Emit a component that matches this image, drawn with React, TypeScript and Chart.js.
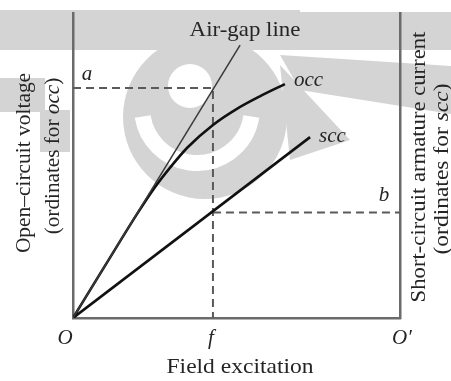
import React, { useEffect, useRef } from "react";
import { Chart, registerables } from "chart.js";

Chart.register(...registerables);

// Field excitation (x) in % of O..O', ordinates (y) in % of axis height
const airGapX = [0, 51.1];
const airGapY = [0, 89.5];
const occX = [0, 10, 20, 25, 30, 35, 42.8, 50, 57, 64.8];
const occY = [0, 17.5, 34.8, 42.8, 49.7, 55.9, 63.3, 68.5, 72.6, 76.7];
const sccX = [0, 72.5];
const sccY = [0, 59.3];
const fValue = 42.8;
const aValue = 75.4;
const bValue = 34.6;
const xTickValues = [0, fValue, 100];
const xTickLabels = ["O", "f", "O\u2032"];

const pts = (xs: number[], ys: number[]) => xs.map((x, i) => ({ x, y: ys[i] }));

const SERIF = '"Liberation Serif", "DejaVu Serif", serif';
const TEXT = "#252525";
const GRAY = "#d4d4d4";

type Part = { t: string; i?: boolean };

function drawParts(
  ctx: CanvasRenderingContext2D,
  parts: Part[],
  size: number,
  x: number,
  y: number,
  align: "left" | "center",
  rot = 0,
  stretch = 1
) {
  ctx.save();
  ctx.translate(x, y);
  if (rot) ctx.rotate(rot);
  ctx.scale(stretch, 1);
  ctx.fillStyle = TEXT;
  ctx.textBaseline = "middle";
  ctx.textAlign = "left";
  const font = (p: Part) => `${p.i ? "italic " : ""}${size}px ${SERIF}`;
  let total = 0;
  parts.forEach((p) => {
    ctx.font = font(p);
    total += ctx.measureText(p.t).width;
  });
  let cx = align === "center" ? -total / 2 : 0;
  parts.forEach((p) => {
    ctx.font = font(p);
    ctx.fillText(p.t, cx, 0);
    cx += ctx.measureText(p.t).width;
  });
  ctx.restore();
}

const watermark = {
  id: "watermark",
  beforeDraw(chart: any) {
    const ctx = chart.ctx as CanvasRenderingContext2D;
    ctx.save();
    ctx.fillStyle = "#ffffff";
    ctx.fillRect(0, 0, chart.width, chart.height);
    ctx.fillStyle = GRAY;
    // top band
    ctx.fillRect(0, 10, chart.width, 40);
    ctx.fillStyle = "#ffffff";
    ctx.fillRect(300, 0, 151, 12);
    ctx.fillRect(400, 50, 51, 16);
    ctx.fillStyle = GRAY;
    // left patches
    ctx.fillRect(0, 78, 45, 34);
    ctx.fillRect(40, 110, 30, 42);
    // big disc
    ctx.beginPath();
    ctx.arc(205, 117, 82, 0, Math.PI * 2);
    ctx.fill();
    // right wedge
    ctx.beginPath();
    ctx.moveTo(280, 55);
    ctx.lineTo(451, 66);
    ctx.lineTo(451, 114);
    ctx.lineTo(300, 90);
    ctx.closePath();
    ctx.fill();
    ctx.beginPath();
    ctx.moveTo(280, 65);
    ctx.lineTo(350, 140);
    ctx.lineTo(290, 160);
    ctx.closePath();
    ctx.fill();
    // white C ring inside disc
    ctx.strokeStyle = "#ffffff";
    ctx.lineWidth = 16;
    ctx.beginPath();
    ctx.arc(197, 108, 55, Math.PI * 0.05, Math.PI * 0.95);
    ctx.stroke();
    // white small circle
    ctx.fillStyle = "#ffffff";
    ctx.beginPath();
    ctx.arc(190, 86, 22, 0, Math.PI * 2);
    ctx.fill();
    ctx.restore();
  },
};

const labels = {
  id: "labels",
  afterDraw(chart: any) {
    const ctx = chart.ctx as CanvasRenderingContext2D;
    const sx = chart.scales.x;
    const sy = chart.scales.y;
    const S = 21;
    const up = -Math.PI / 2;
    // tick labels
    xTickValues.forEach((v, i) => {
      drawParts(ctx, [{ t: xTickLabels[i], i: true }], S, sx.getPixelForValue(v) + (i === 0 ? -8 : i === 2 ? 2 : -2), 338, "center");
    });
    drawParts(ctx, [{ t: "Field excitation" }], S, 240, 367, "center", 0, 1.12);
    drawParts(ctx, [{ t: "Air-gap line" }], S, 245, 30, "center", 0, 1.09);
    drawParts(ctx, [{ t: "occ", i: true }], S, sx.getPixelForValue(occX[occX.length - 1]) + 9, sy.getPixelForValue(occY[occY.length - 1]) - 4, "left");
    drawParts(ctx, [{ t: "scc", i: true }], S, sx.getPixelForValue(sccX[1]) + 9, sy.getPixelForValue(sccY[1]) - 1, "left");
    drawParts(ctx, [{ t: "a", i: true }], S, 87, 74, "center");
    drawParts(ctx, [{ t: "b", i: true }], S, 384, 195, "center");
    // axis titles
    drawParts(ctx, [{ t: "Open\u2013circuit voltage" }], S, 24, 163, "center", up, 1.02);
    drawParts(ctx, [{ t: "(ordinates for " }, { t: "occ", i: true }, { t: ")" }], S, 53, 156, "center", up, 1.01);
    drawParts(ctx, [{ t: "Short-circuit armature current" }], S, 419, 167, "center", up, 1.08);
    drawParts(ctx, [{ t: "(ordinates for " }, { t: "scc", i: true }, { t: ")" }], S, 442, 169, "center", up, 1.12);
  },
};

export default function App() {
  const ref = useRef<HTMLCanvasElement | null>(null);
  useEffect(() => {
    if (!ref.current) return;
    const axisCommon = {
      min: 0,
      max: 100,
      grid: { display: false, drawTicks: false },
      ticks: { display: false },
      border: { display: true, color: "#6b6b6b", width: 2.5 },
    };
    const chart = new Chart(ref.current, {
      type: "scatter",
      data: {
        datasets: [
          { label: "Air-gap line", data: pts(airGapX, airGapY), showLine: true, borderColor: "#3a3a3a", borderWidth: 1.5, pointRadius: 0 },
          { label: "occ", data: pts(occX, occY), showLine: true, borderColor: "#111111", borderWidth: 2.6, pointRadius: 0, tension: 0.4, cubicInterpolationMode: "monotone" },
          { label: "scc", data: pts(sccX, sccY), showLine: true, borderColor: "#111111", borderWidth: 2.6, pointRadius: 0 },
          { label: "a", data: [{ x: 0, y: aValue }, { x: fValue, y: aValue }, { x: fValue, y: 0 }], showLine: true, borderColor: "#5a5a5a", borderWidth: 2, borderDash: [8, 5], pointRadius: 0 },
          { label: "b", data: [{ x: fValue, y: bValue }, { x: 100, y: bValue }], showLine: true, borderColor: "#5a5a5a", borderWidth: 2, borderDash: [8, 5], pointRadius: 0 },
        ] as any,
      },
      options: {
        animation: false,
        responsive: false,
        layout: { padding: { left: 73, right: 51, top: 13, bottom: 63 } },
        plugins: { legend: { display: false }, tooltip: { enabled: false }, title: { display: false } },
        scales: {
          x: { type: "linear", position: "bottom", ...axisCommon },
          y: { type: "linear", position: "left", ...axisCommon },
          y2: { type: "linear", position: "right", ...axisCommon },
        } as any,
      },
      plugins: [watermark, labels],
    });
    return () => chart.destroy();
  }, []);
  return (
    <div style={{ position: "absolute", left: 0, top: 0, width: 451, height: 381 }}>
      <canvas ref={ref} width={451} height={381} style={{ width: 451, height: 381, display: "block" }} />
    </div>
  );
}
